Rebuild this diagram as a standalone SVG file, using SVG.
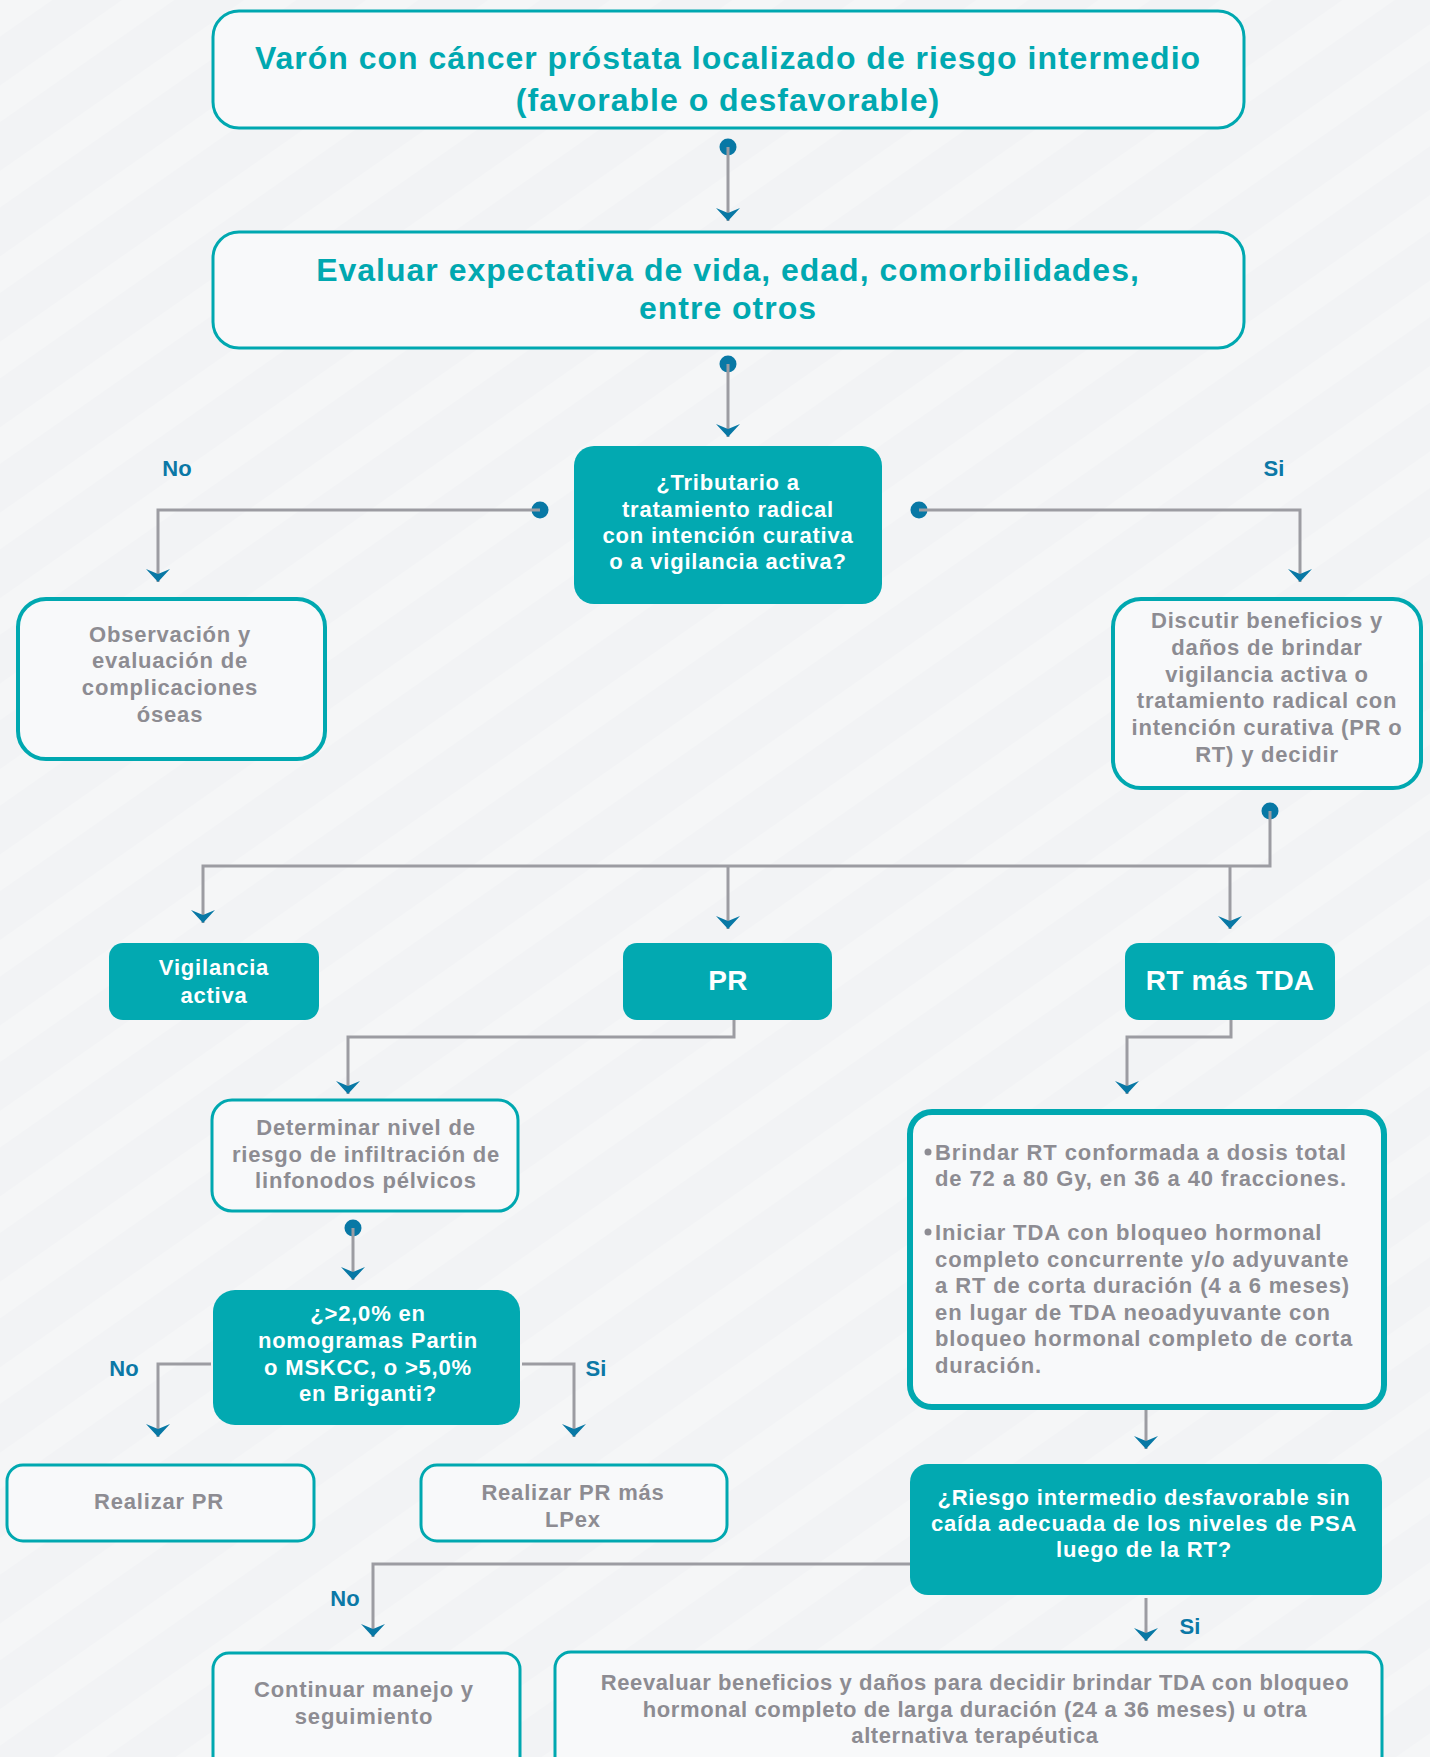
<svg xmlns="http://www.w3.org/2000/svg" width="1430" height="1757" viewBox="0 0 1430 1757">
<defs>
<pattern id="stripes" width="70" height="70" patternUnits="userSpaceOnUse" patternTransform="rotate(-35)">
<rect width="70" height="70" fill="#f2f3f5"/>
<rect width="70" height="30" fill="#f5f6f7"/>
</pattern>
<marker id="arr" markerUnits="userSpaceOnUse" markerWidth="16" markerHeight="28" viewBox="-14 -14 16 28" refX="0" refY="0" orient="auto">
<path d="M0,0 L-13,-12 L-8,0 L-13,12 Z" fill="#0878a5"/>
</marker>
<style>
.t{font-family:"Liberation Sans",Arial,sans-serif;font-weight:700;text-anchor:middle}
.title{font-size:32px;letter-spacing:1px;fill:#00a8b0}
.w{fill:#ffffff;font-size:22px;letter-spacing:0.8px}
.g{fill:#8d8c92;font-size:22px;letter-spacing:0.8px}
.big{font-size:28px;letter-spacing:0.2px}
.bl{font-family:"Liberation Sans",Arial,sans-serif;font-weight:700;font-size:22px;letter-spacing:0.9px;fill:#8d8c92}
.lbl{font-family:"Liberation Sans",Arial,sans-serif;font-weight:700;font-size:22px;fill:#0b78a6;text-anchor:middle}
.ob{fill:#f8f9fa;stroke:#00a8b0;stroke-width:3}
.fb{fill:#02a9b1}
.ca{fill:none;stroke:#9c9ca2;stroke-width:3;marker-end:url(#arr)}
.dot{fill:#0878a5}
</style>
</defs>
<rect width="1430" height="1757" fill="url(#stripes)"/>

<g id="connectors">
<circle class="dot" cx="728" cy="147" r="8.5"/>
<path class="ca" d="M728,147 V221"/>
<circle class="dot" cx="728" cy="364" r="8.5"/>
<path class="ca" d="M728,364 V437"/>
<circle class="dot" cx="540" cy="510" r="8.5"/>
<path class="ca" d="M540,510 H158 V582"/>
<circle class="dot" cx="919" cy="510" r="8.5"/>
<path class="ca" d="M919,510 H1300 V582"/>
<circle class="dot" cx="1270" cy="811" r="8.5"/>
<path class="ca" d="M1270,811 V866 H203 V923"/>
<path class="ca" d="M728,866 V929"/>
<path class="ca" d="M1230,866 V929"/>
<path class="ca" d="M734,1020 V1037 H348 V1094"/>
<circle class="dot" cx="353" cy="1228" r="8.5"/>
<path class="ca" d="M353,1228 V1280"/>
<path class="ca" d="M211,1364 H158 V1437"/>
<path class="ca" d="M522,1364 H574 V1437"/>
<path class="ca" d="M1231,1020 V1037 H1127 V1094"/>
<path class="ca" d="M1146,1408 V1449"/>
<path class="ca" d="M910,1564 H373 V1637"/>
<path class="ca" d="M1146,1598 V1641"/>
<text class="lbl" x="177" y="476">No</text>
<text class="lbl" x="1274" y="476">Si</text>
<text class="lbl" x="124" y="1376">No</text>
<text class="lbl" x="596" y="1376">Si</text>
<text class="lbl" x="345" y="1606">No</text>
<text class="lbl" x="1190" y="1634">Si</text>
</g>

<g id="n1">
<rect class="ob" x="213" y="11" width="1031" height="117" rx="26"/>
<text class="t title" x="728" y="69">Varón con cáncer próstata localizado de riesgo intermedio</text>
<text class="t title" x="728" y="111">(favorable o desfavorable)</text>
</g>
<g id="n2">
<rect class="ob" x="213" y="232" width="1031" height="116" rx="26"/>
<text class="t title" x="728" y="281">Evaluar expectativa de vida, edad, comorbilidades,</text>
<text class="t title" x="728" y="319">entre otros</text>
</g>
<g id="n3">
<rect class="fb" x="574" y="446" width="308" height="158" rx="20"/>
<text class="t w" x="728" y="490">¿Tributario a</text>
<text class="t w" x="728" y="517">tratamiento radical</text>
<text class="t w" x="728" y="543">con intención curativa</text>
<text class="t w" x="728" y="569">o a vigilancia activa?</text>
</g>
<g id="n4">
<rect class="ob" x="18" y="599" width="307" height="160" rx="28" style="stroke-width:4"/>
<text class="t g" x="170" y="642">Observación y</text>
<text class="t g" x="170" y="668">evaluación de</text>
<text class="t g" x="170" y="695">complicaciones</text>
<text class="t g" x="170" y="722">óseas</text>
</g>
<g id="n5">
<rect class="ob" x="1113" y="599" width="308" height="189" rx="28" style="stroke-width:4"/>
<text class="t g" x="1267" y="628">Discutir beneficios y</text>
<text class="t g" x="1267" y="655">daños de brindar</text>
<text class="t g" x="1267" y="682">vigilancia activa o</text>
<text class="t g" x="1267" y="708">tratamiento radical con</text>
<text class="t g" x="1267" y="735">intención curativa (PR o</text>
<text class="t g" x="1267" y="762">RT) y decidir</text>
</g>
<g id="n6">
<rect class="fb" x="109" y="943" width="210" height="77" rx="14"/>
<text class="t w" x="214" y="975">Vigilancia</text>
<text class="t w" x="214" y="1003">activa</text>
</g>
<g id="n7">
<rect class="fb" x="623" y="943" width="209" height="77" rx="14"/>
<text class="t w big" x="728" y="990">PR</text>
</g>
<g id="n8">
<rect class="fb" x="1125" y="943" width="210" height="77" rx="14"/>
<text class="t w big" x="1230" y="990">RT más TDA</text>
</g>
<g id="n9">
<rect class="ob" x="212" y="1100" width="306" height="111" rx="20"/>
<text class="t g" x="366" y="1135">Determinar nivel de</text>
<text class="t g" x="366" y="1162">riesgo de infiltración de</text>
<text class="t g" x="366" y="1188">linfonodos pélvicos</text>
</g>
<g id="n10">
<rect class="fb" x="213" y="1290" width="307" height="135" rx="22"/>
<text class="t w" x="368" y="1321">¿&gt;2,0% en</text>
<text class="t w" x="368" y="1348">nomogramas Partin</text>
<text class="t w" x="368" y="1375">o MSKCC, o &gt;5,0%</text>
<text class="t w" x="368" y="1401">en Briganti?</text>
</g>
<g id="n11">
<rect class="ob" x="910" y="1112" width="474" height="295" rx="22" style="stroke-width:6"/>
<circle cx="928" cy="1152" r="3.5" fill="#8d8c92"/>
<text class="bl" x="935" y="1160">Brindar RT conformada a dosis total</text>
<text class="bl" x="935" y="1186">de 72 a 80 Gy, en 36 a 40 fracciones.</text>
<circle cx="928" cy="1232" r="3.5" fill="#8d8c92"/>
<text class="bl" x="935" y="1240">Iniciar TDA con bloqueo hormonal</text>
<text class="bl" x="935" y="1267">completo concurrente y/o adyuvante</text>
<text class="bl" x="935" y="1293">a RT de corta duración (4 a 6 meses)</text>
<text class="bl" x="935" y="1320">en lugar de TDA neoadyuvante con</text>
<text class="bl" x="935" y="1346">bloqueo hormonal completo de corta</text>
<text class="bl" x="935" y="1373">duración.</text>
</g>
<g id="n12">
<rect class="ob" x="7" y="1465" width="307" height="76" rx="16"/>
<text class="t g" x="159" y="1509">Realizar PR</text>
</g>
<g id="n13">
<rect class="ob" x="421" y="1465" width="306" height="76" rx="16"/>
<text class="t g" x="573" y="1500">Realizar PR más</text>
<text class="t g" x="573" y="1527">LPex</text>
</g>
<g id="n14">
<rect class="fb" x="910" y="1464" width="472" height="131" rx="18"/>
<text class="t w" x="1144" y="1505">¿Riesgo intermedio desfavorable sin</text>
<text class="t w" x="1144" y="1531">caída adecuada de los niveles de PSA</text>
<text class="t w" x="1144" y="1557">luego de la RT?</text>
</g>
<g id="n15">
<rect class="ob" x="213" y="1653" width="307" height="120" rx="16"/>
<text class="t g" x="364" y="1697">Continuar manejo y</text>
<text class="t g" x="364" y="1724">seguimiento</text>
</g>
<g id="n16">
<rect class="ob" x="555" y="1652" width="827" height="120" rx="16"/>
<text class="t g" x="975" y="1690" style="letter-spacing:0.6px">Reevaluar beneficios y daños para decidir brindar TDA con bloqueo</text>
<text class="t g" x="975" y="1717" style="letter-spacing:0.6px">hormonal completo de larga duración (24 a 36 meses) u otra</text>
<text class="t g" x="975" y="1743" style="letter-spacing:0.6px">alternativa terapéutica</text>
</g>
</svg>
